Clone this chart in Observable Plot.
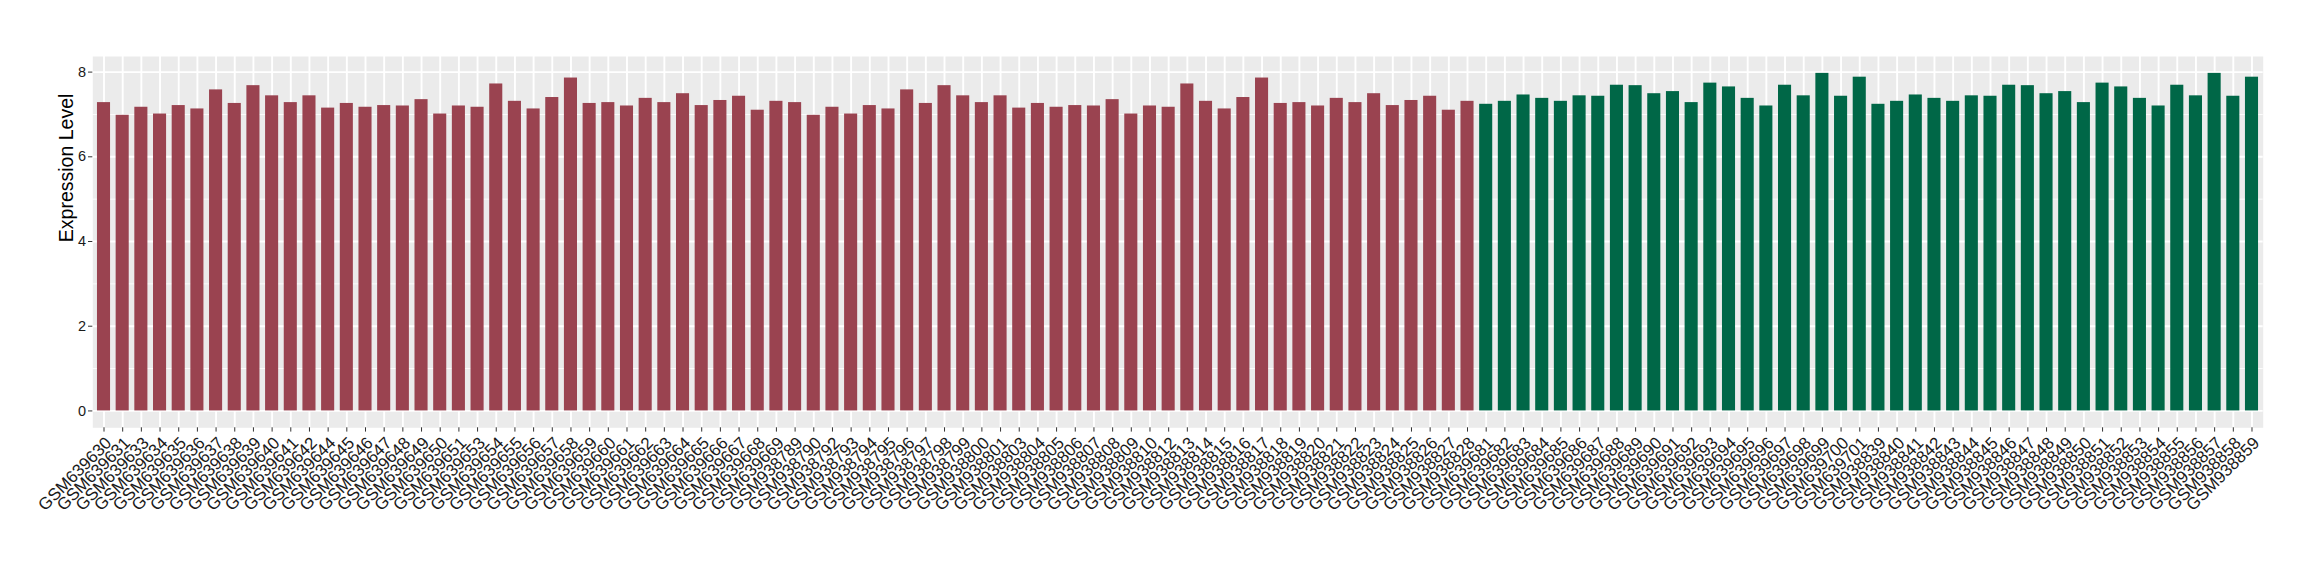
<!DOCTYPE html>
<html>
<head>
<meta charset="utf-8">
<script src="https://cdn.jsdelivr.net/npm/d3@7"></script>
<script src="https://cdn.jsdelivr.net/npm/@observablehq/plot@0.6"></script>
<style>
  html, body { margin: 0; padding: 0; background: #ffffff; }
  #chart { width: 2320px; height: 580px; }
  #chart svg text { font-family: "Liberation Sans", Arial, sans-serif; }
</style>
</head>
<body>
<div id="chart"></div>
<script>
// Group 1 (maroon)
const group1Samples = [
  "GSM639630","GSM639631","GSM639633","GSM639634","GSM639635","GSM639636","GSM639637","GSM639638",
  "GSM639639","GSM639640","GSM639641","GSM639642","GSM639644","GSM639645","GSM639646","GSM639647",
  "GSM639648","GSM639649","GSM639650","GSM639651","GSM639653","GSM639654","GSM639655","GSM639656",
  "GSM639657","GSM639658","GSM639659","GSM639660","GSM639661","GSM639662","GSM639663","GSM639664",
  "GSM639665","GSM639666","GSM639667","GSM639668","GSM639669",
  "GSM938789","GSM938790","GSM938792","GSM938793","GSM938794","GSM938795","GSM938796","GSM938797",
  "GSM938798","GSM938799","GSM938800","GSM938801","GSM938803","GSM938804","GSM938805","GSM938806",
  "GSM938807","GSM938808","GSM938809","GSM938810","GSM938812","GSM938813","GSM938814","GSM938815",
  "GSM938816","GSM938817","GSM938818","GSM938819","GSM938820","GSM938821","GSM938822","GSM938823",
  "GSM938824","GSM938825","GSM938826","GSM938827","GSM938828"
];
const group1Values = [
  7.28, 6.98, 7.17, 7.01, 7.21, 7.13, 7.58, 7.26,
  7.68, 7.44, 7.28, 7.44, 7.15, 7.26, 7.17, 7.21,
  7.20, 7.35, 7.01, 7.20, 7.17, 7.72, 7.31, 7.13,
  7.40, 7.86, 7.26, 7.28, 7.20, 7.38, 7.28, 7.49,
  7.21, 7.33, 7.43, 7.10, 7.31,
  7.28, 6.98, 7.17, 7.01, 7.21, 7.13, 7.58, 7.26,
  7.68, 7.44, 7.28, 7.44, 7.15, 7.26, 7.17, 7.21,
  7.20, 7.35, 7.01, 7.20, 7.17, 7.72, 7.31, 7.13,
  7.40, 7.86, 7.26, 7.28, 7.20, 7.38, 7.28, 7.49,
  7.21, 7.33, 7.43, 7.10, 7.31
];
// Group 2 (green)
const group2Samples = [
  "GSM639681","GSM639682","GSM639683","GSM639684","GSM639685","GSM639686","GSM639687","GSM639688",
  "GSM639689","GSM639690","GSM639691","GSM639692","GSM639693","GSM639694","GSM639695","GSM639696",
  "GSM639697","GSM639698","GSM639699","GSM639700","GSM639701",
  "GSM938839","GSM938840","GSM938841","GSM938842","GSM938843","GSM938844","GSM938845","GSM938846",
  "GSM938847","GSM938848","GSM938849","GSM938850","GSM938851","GSM938852","GSM938853","GSM938854",
  "GSM938855","GSM938856","GSM938857","GSM938858","GSM938859"
];
const group2Values = [
  7.24, 7.31, 7.46, 7.38, 7.31, 7.44, 7.43, 7.69,
  7.68, 7.49, 7.54, 7.28, 7.74, 7.65, 7.38, 7.20,
  7.69, 7.44, 7.97, 7.43, 7.88,
  7.24, 7.31, 7.46, 7.38, 7.31, 7.44, 7.43, 7.69,
  7.68, 7.49, 7.54, 7.28, 7.74, 7.65, 7.38, 7.20,
  7.69, 7.44, 7.97, 7.43, 7.88
];
const groupNames = ["group1", "group2"];
const groupColors = ["#9A4350", "#006747"];
const yMajorTicks = [0, 2, 4, 6, 8];
const yMinorTicks = [1, 3, 5, 7];
const yTitle = "Expression Level";

const rows = [
  ...group1Samples.map((s, i) => ({sample: s, value: group1Values[i], group: groupNames[0]})),
  ...group2Samples.map((s, i) => ({sample: s, value: group2Values[i], group: groupNames[1]}))
];
const allSamples = rows.map(d => d.sample);
const maxV = d3.max(rows, d => d.value);
const pad = maxV * 0.05;

const chart = Plot.plot({
  width: 2320,
  height: 580,
  marginLeft: 92.3,
  marginRight: 57.3,
  marginTop: 56,
  marginBottom: 152.7,
  style: {background: "#ffffff", overflow: "visible"},
  x: {type: "band", domain: allSamples, paddingInner: 0.3, paddingOuter: 0.25, axis: null},
  y: {domain: [-pad, maxV + pad], axis: null},
  color: {domain: groupNames, range: groupColors},
  marks: [
    Plot.frame({fill: "#EBEBEB", stroke: null}),
    Plot.ruleY(yMinorTicks, {stroke: "#ffffff", strokeWidth: 0.9}),
    Plot.ruleY(yMajorTicks, {stroke: "#ffffff", strokeWidth: 1.9}),
    Plot.ruleX(allSamples, {x: d => d, stroke: "#ffffff", strokeWidth: 1.9}),
    Plot.barY(rows, {x: "sample", y: "value", fill: "group"}),
    Plot.axisY({ticks: yMajorTicks, tickSize: 4.3, tickPadding: 2.5, fontSize: 14.5,
                stroke: "#333333", fill: "#1A1A1A", label: null}),
    Plot.axisX({tickSize: 4.3, tickPadding: 3.5, tickRotate: -45, textAnchor: "end", lineAnchor: "top",
                fontSize: 17, stroke: "#333333", fill: "#1A1A1A", label: null}),
    Plot.text([yTitle], {frameAnchor: "left", dx: -26, rotate: -90, fontSize: 19.5, fill: "#000000",
                         text: d => d})
  ]
});
document.getElementById("chart").appendChild(chart);
</script>
</body>
</html>
